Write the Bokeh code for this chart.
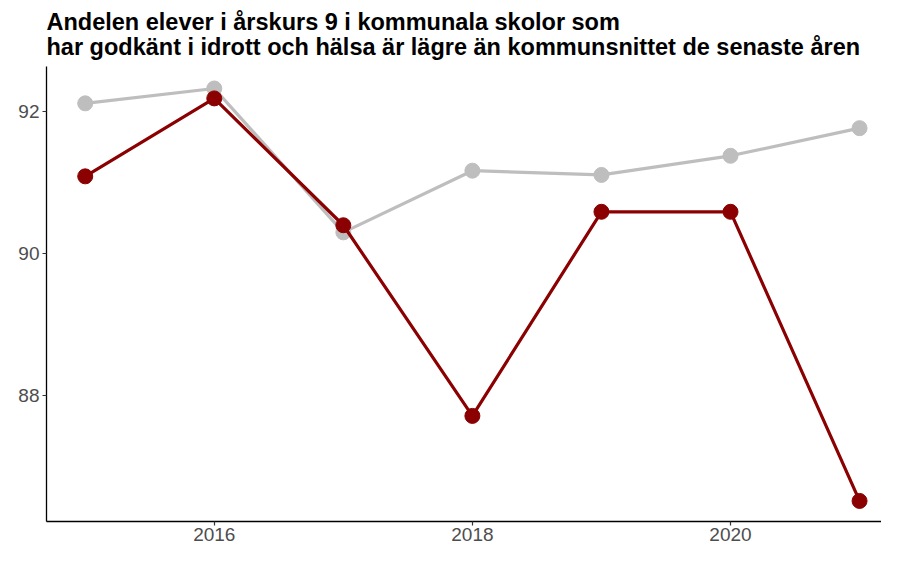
from bokeh.plotting import figure
from bokeh.models import Title, Range1d, FixedTicker
from bokeh.embed import file_html
from bokeh.resources import INLINE

years = [2015, 2016, 2017, 2018, 2019, 2020, 2021]
kommun_snitt = [92.12, 92.33, 90.30, 91.17, 91.11, 91.38, 91.77]
kommunala_skolor = [91.09, 92.19, 90.40, 87.71, 90.59, 90.59, 86.51]
title_line1 = "Andelen elever i årskurs 9 i kommunala skolor som"
title_line2 = "har godkänt i idrott och hälsa är lägre än kommunsnittet de senaste åren"
x_ticks = [2016, 2018, 2020]
y_ticks = [88, 90, 92]

p = figure(width=881, height=549, output_backend="svg", toolbar_location=None,
           x_range=Range1d(2014.7, 2021.17), y_range=Range1d(86.22, 92.64),
           min_border_left=46, min_border_right=0, min_border_bottom=28, min_border_top=23)

font = "Liberation Sans"
p.title = Title(text=title_line1 + "\n" + title_line2, text_font=font, text_font_size="23.5px",
                text_font_style="bold", text_color="black", offset=0, standoff=13,
                text_line_height=0.95)

p.grid.visible = False
p.outline_line_color = None
p.background_fill_color = "white"
p.border_fill_color = "white"

for ax in (p.xaxis[0], p.yaxis[0]):
    ax.axis_line_color = "black"
    ax.axis_line_width = 1.3
    ax.major_tick_line_color = "#333333"
    ax.major_tick_line_width = 1.2
    ax.major_tick_out = 4
    ax.major_tick_in = 0
    ax.minor_tick_line_color = None
    ax.major_label_text_font = font
    ax.major_label_text_font_size = "19px"
    ax.major_label_text_color = "#4D4D4D"
p.xaxis[0].ticker = FixedTicker(ticks=x_ticks)
p.yaxis[0].ticker = FixedTicker(ticks=y_ticks)
p.xaxis[0].major_label_standoff = 2
p.yaxis[0].major_label_standoff = 3

p.line(years, kommun_snitt, line_color="#BEBEBE", line_width=3.2)
p.scatter(years, kommun_snitt, size=15, fill_color="#BEBEBE", line_color="#BEBEBE")
p.line(years, kommunala_skolor, line_color="#8B0000", line_width=3.2)
p.scatter(years, kommunala_skolor, size=15, fill_color="#8B0000", line_color="#8B0000")

open("out.html", "w").write(file_html(p, INLINE))
